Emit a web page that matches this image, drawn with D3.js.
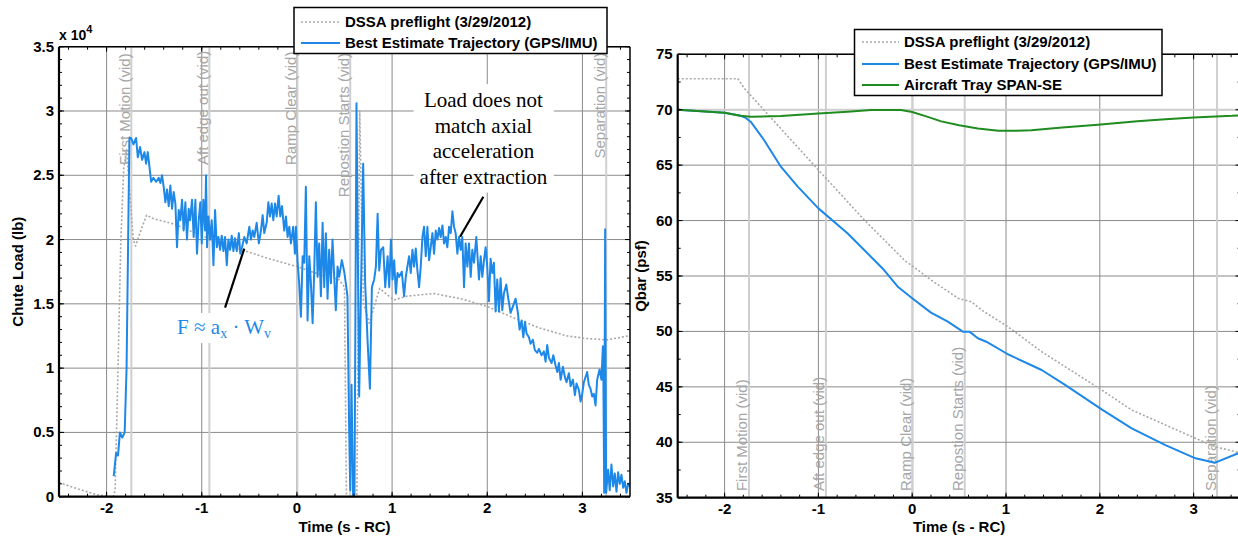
<!DOCTYPE html>
<html><head><meta charset="utf-8">
<script src="https://cdn.jsdelivr.net/npm/d3@7"></script>
<style>
body{margin:0;background:#fff}
svg{display:block;font-family:"Liberation Sans",Arial,sans-serif}
</style>
</head><body>
<svg id="c" width="1238" height="539"></svg>
<script>
// ---------------- DATA ----------------
// Left panel: chute load (units of 10^4 lb) vs time (s - RC)
const loadTime = [-1.925,-1.90,-1.88,-1.86,-1.835,-1.81,-1.79,-1.775,-1.76,-1.742,-1.718,-1.69,-1.672,-1.648,-1.627,-1.602,-1.585,-1.567,-1.55,-1.532,-1.508,-1.48,-1.452,-1.435,-1.417,-1.40,-1.382,-1.365,-1.347,-1.33,-1.312,-1.295,-1.277,-1.26,-1.242,-1.225,-1.207,-1.19,-1.172,-1.155,-1.137,-1.123,-1.102,-1.085,-1.067,-1.05,-1.032,-1.015,-1.0,-0.983,-0.965,-0.955,-0.944,-0.93,-0.912,-0.895,-0.877,-0.86,-0.842,-0.825,-0.807,-0.79,-0.772,-0.755,-0.737,-0.72,-0.702,-0.685,-0.667,-0.65,-0.632,-0.61,-0.595,-0.577,-0.553,-0.528,-0.50,-0.483,-0.465,-0.448,-0.423,-0.40,-0.378,-0.36,-0.343,-0.318,-0.30,-0.283,-0.265,-0.248,-0.23,-0.213,-0.192,-0.175,-0.157,-0.133,-0.115,-0.098,-0.08,-0.063,-0.039,-0.021,-0.01,0.007,0.024,0.042,0.06,0.077,0.094,0.112,0.13,0.147,0.165,0.182,0.199,0.217,0.234,0.252,0.27,0.287,0.304,0.322,0.339,0.357,0.374,0.392,0.409,0.427,0.444,0.472,0.497,0.514,0.531,0.549,0.56,0.574,0.59,0.605,0.626,0.654,0.696,0.717,0.742,0.767,0.788,0.812,0.83,0.848,0.865,0.883,0.907,0.928,0.953,0.97,0.988,1.005,1.022,1.04,1.057,1.074,1.102,1.126,1.144,1.161,1.179,1.196,1.214,1.231,1.249,1.266,1.284,1.301,1.319,1.336,1.354,1.371,1.389,1.406,1.424,1.441,1.459,1.476,1.494,1.511,1.529,1.546,1.564,1.581,1.599,1.616,1.634,1.651,1.668,1.686,1.703,1.721,1.738,1.756,1.773,1.791,1.808,1.826,1.843,1.861,1.885,1.913,1.931,1.948,1.966,1.983,2.0,2.018,2.035,2.053,2.07,2.088,2.105,2.123,2.14,2.158,2.175,2.2,2.221,2.245,2.27,2.298,2.322,2.34,2.361,2.379,2.396,2.413,2.438,2.455,2.48,2.5,2.526,2.543,2.571,2.595,2.613,2.63,2.648,2.676,2.694,2.718,2.736,2.753,2.771,2.795,2.816,2.833,2.858,2.876,2.9,2.921,2.938,2.963,2.981,2.998,3.015,3.05,3.067,3.085,3.103,3.12,3.138,3.155,3.18,3.2,3.215,3.22,3.229,3.239,3.249,3.27,3.287,3.305,3.323,3.34,3.358,3.375,3.393,3.41,3.428,3.445,3.463,3.48,3.5];
const loadBET = [0.16,0.34,0.32,0.50,0.46,0.50,1.0,1.9,2.79,2.79,2.74,2.79,2.64,2.72,2.62,2.68,2.59,2.68,2.57,2.45,2.48,2.45,2.48,2.44,2.50,2.41,2.29,2.39,2.26,2.42,2.24,2.37,2.28,1.94,2.23,2.15,2.31,2.07,2.29,2.00,2.24,2.15,2.31,2.02,2.31,1.89,2.15,2.29,1.97,2.31,2.07,2.50,1.94,2.18,2.00,2.15,1.80,2.23,1.94,2.02,1.92,2.03,1.91,2.02,1.80,2.00,1.92,2.03,1.91,2.01,1.91,2.05,1.89,1.94,2.02,1.97,2.10,2.00,2.07,2.02,2.13,1.97,2.07,2.19,2.05,2.13,2.29,2.18,2.28,2.15,2.28,2.18,2.34,2.18,2.26,2.07,2.18,2.02,2.10,1.97,2.10,1.89,2.10,1.82,1.66,1.40,1.87,1.82,2.41,1.37,1.87,1.66,1.35,1.76,2.29,1.71,1.97,1.56,2.13,1.63,2.05,1.54,1.92,1.66,2.00,1.71,1.45,1.79,1.71,1.84,1.75,1.66,1.56,0.52,0.05,0.87,0.0,0.02,3.06,0.78,2.59,1.66,1.22,0.84,1.63,1.69,1.79,2.20,1.76,1.92,1.94,1.63,1.87,1.63,2.00,1.69,1.84,1.58,1.74,1.71,1.75,1.56,1.71,1.79,1.87,1.74,1.92,1.79,1.93,1.76,1.63,1.79,2.02,2.10,1.87,2.10,1.84,1.94,2.05,1.89,2.07,2.00,2.09,2.02,2.11,1.97,2.02,1.94,2.10,2.05,2.22,2.10,2.05,1.89,2.02,1.92,2.02,1.63,1.97,1.79,1.97,1.71,1.92,1.82,2.02,1.69,1.87,1.71,1.84,1.94,1.79,1.52,1.85,1.74,1.82,1.44,1.69,1.44,1.70,1.45,1.58,1.65,1.54,1.43,1.48,1.54,1.43,1.30,1.37,1.24,1.36,1.27,1.24,1.19,1.22,1.14,1.12,1.15,1.10,1.13,1.05,1.18,1.08,1.04,1.10,1.02,0.97,1.04,0.91,1.01,0.93,0.89,0.96,0.86,0.91,0.79,0.88,0.83,0.74,0.80,0.89,0.97,0.87,0.84,0.78,0.80,0.71,0.91,0.99,0.91,1.17,0.96,0.03,2.08,0.03,0.21,0.05,0.25,0.08,0.18,0.04,0.19,0.10,0.17,0.07,0.12,0.03,0.10,0.08];
const loadDSSATime = [-2.5,-2.3,-2.1,-2.0,-1.93,-1.91,-1.88,-1.85,-1.82,-1.79,-1.76,-1.72,-1.695,-1.65,-1.58,-1.5,-1.39,-1.29,-1.1,-0.9,-0.7,-0.536,-0.29,0.0,0.27,0.44,0.5,0.51,0.52,0.63,0.66,0.68,0.70,0.76,0.80,0.87,0.95,1.02,1.16,1.44,1.72,2.0,2.28,2.56,2.84,3.05,3.26,3.48,3.5];
const loadDSSA = [0.11,0.06,0.015,0.005,0.0,0.05,1.0,2.0,2.55,2.7,2.4,2.0,1.95,2.05,2.19,2.16,2.14,2.12,2.06,2.0,1.95,1.91,1.85,1.79,1.72,1.69,1.63,0.8,0.0,0.0,3.0,2.2,1.5,1.35,1.45,1.62,1.57,1.53,1.56,1.58,1.54,1.48,1.39,1.31,1.25,1.23,1.22,1.25,1.25];

// Right panel: Qbar (psf) vs time (s - RC)
const qbarDSSATime = [-2.5,-1.86,-1.79,-1.58,-1.0,-0.51,-0.08,0.06,0.2,0.49,0.63,0.74,1.02,1.38,2.02,2.34,2.70,3.02,3.23,3.49,3.5];
const qbarDSSA = [72.8,72.8,71.93,69.97,64.56,60.05,56.4,55.54,54.64,52.99,52.68,51.93,50.43,48.17,44.72,42.91,41.56,40.36,39.6,39.06,39.05];
const qbarBETTime = [-2.5,-2.29,-2.0,-1.83,-1.78,-1.72,-1.58,-1.40,-1.22,-1.0,-0.69,-0.40,-0.30,-0.15,0.0,0.2,0.38,0.54,0.61,0.70,0.79,1.02,1.38,1.63,2.02,2.34,2.70,3.02,3.23,3.49,3.5];
const qbarBET = [70.0,69.88,69.73,69.46,69.3,68.9,67.27,64.86,63.06,61.1,58.85,56.4,55.54,54.0,52.99,51.7,50.88,49.98,49.98,49.38,49.07,47.94,46.52,45.17,42.97,41.26,39.75,38.55,38.16,39.06,39.1];
const qbarSPANTime = [-2.5,-2.29,-2.0,-1.83,-1.72,-1.4,-1.0,-0.69,-0.44,-0.12,0.0,0.15,0.31,0.5,0.7,0.92,1.1,1.27,1.6,1.98,2.4,2.7,3.0,3.41,3.5];
const qbarSPAN = [70.0,69.88,69.73,69.46,69.37,69.43,69.67,69.82,69.97,69.97,69.8,69.4,68.95,68.6,68.3,68.1,68.1,68.15,68.4,68.65,68.95,69.15,69.3,69.45,69.5];

// Events (video)
const eventNames = ["First Motion (vid)","Aft edge out (vid)","Ramp Clear (vid)","Repostion Starts (vid)","Separation (vid)"];
const eventTimes = [-1.74,-0.92,0.005,0.56,3.25];
const eventLabelLoad = [2.58,2.58,2.58,2.33,2.63];   // left-panel label start (x10^4 lb)
const eventLabelQbar = [35.6,35.6,35.6,35.6,35.6];   // right-panel label start (psf)

// Ticks
const timeTicks = [-2,-1,0,1,2,3];
const loadTicks = [0,0.5,1,1.5,2,2.5,3,3.5];
const qbarTicks = [35,40,45,50,55,60,65,70,75];

const legendLeft = ["DSSA preflight (3/29/2012)","Best Estimate Trajectory (GPS/IMU)"];
const legendRight = ["DSSA preflight (3/29/2012)","Best Estimate Trajectory (GPS/IMU)","Aircraft Tray SPAN-SE"];

// ---------------- STYLE ----------------
const BLUE = "#1e88e8", GREEN = "#1f8c1f", GRAY = "#a8a8a8";
const GRID = "#8a8a8a", EVLINE = "#cfcfcf", EVTEXT = "#a6a6a6";
const SERIF = "'Liberation Serif','Times New Roman',serif";

const svg = d3.select("#c");

function panel(o){
  const x = d3.scaleLinear().domain([-2.5,3.5]).range([o.L,o.R]);
  const y = d3.scaleLinear().domain(o.yDomain).range([o.B,o.T]);
  const g = svg.append("g");
  const cid = "clip"+o.id;
  svg.append("defs").append("clipPath").attr("id",cid).append("rect")
     .attr("x",o.L).attr("y",o.T).attr("width",o.R-o.L).attr("height",o.B-o.T);
  // grid
  g.selectAll(".gx").data(timeTicks).join("line")
    .attr("x1",d=>x(d)).attr("x2",d=>x(d)).attr("y1",o.T).attr("y2",o.B)
    .attr("stroke",GRID).attr("stroke-width",1);
  g.selectAll(".gy").data(o.yTicks).join("line")
    .attr("x1",o.L).attr("x2",o.R).attr("y1",d=>y(d)).attr("y2",d=>y(d))
    .attr("stroke",GRID).attr("stroke-width",1);
  const c = g.append("g").attr("clip-path",`url(#${cid})`);
  if(o.hline!==undefined){
    c.append("line").attr("x1",o.L).attr("x2",o.R).attr("y1",y(o.hline)).attr("y2",y(o.hline))
      .attr("stroke",EVLINE).attr("stroke-width",2);
  }
  // event lines
  c.selectAll(".ev").data(eventTimes).join("line")
    .attr("x1",d=>x(d)).attr("x2",d=>x(d)).attr("y1",o.T).attr("y2",o.B)
    .attr("stroke",EVLINE).attr("stroke-width",2);
  c.selectAll(".evt").data(eventNames).join("text")
    .attr("transform",(d,i)=>`translate(${x(eventTimes[i])-1.5},${y(o.evY[i])}) rotate(-90)`)
    .attr("fill",EVTEXT).attr("font-size",15).text(d=>d);
  // series
  o.series.forEach(s=>{
    const line = d3.line().x(d=>x(d[0])).y(d=>y(d[1]));
    const pts = s.t.map((t,i)=>[t,s.v[i]]);
    c.append("path").attr("d",line(pts)).attr("fill","none")
      .attr("stroke",s.color).attr("stroke-width",s.w)
      .attr("stroke-dasharray",s.dash||null).attr("stroke-linejoin","round");
  });
  // axes box
  const ax = svg.append("g");
  ax.append("line").attr("x1",o.L).attr("x2",o.R).attr("y1",o.T).attr("y2",o.T).attr("stroke","#000").attr("stroke-width",1.5);
  ax.append("line").attr("x1",o.R).attr("x2",o.R).attr("y1",o.T).attr("y2",o.B).attr("stroke","#000").attr("stroke-width",1.5);
  ax.append("line").attr("x1",o.L).attr("x2",o.R).attr("y1",o.B).attr("y2",o.B).attr("stroke","#000").attr("stroke-width",2.2);
  ax.append("line").attr("x1",o.L).attr("x2",o.L).attr("y1",o.T).attr("y2",o.B).attr("stroke","#000").attr("stroke-width",2.2);
  // ticks
  const xMinor = d3.range(-2.4,3.5,0.2).map(v=>+v.toFixed(2));
  const yMinor = d3.range(o.yDomain[0],o.yDomain[1]+1e-9,o.yMinor).map(v=>+v.toFixed(3));
  const tk = (vals,len,isX)=>{
    vals.forEach(v=>{
      if(isX){
        const px=x(v);
        ax.append("line").attr("x1",px).attr("x2",px).attr("y1",o.B).attr("y2",o.B-len).attr("stroke","#000").attr("stroke-width",1);
        ax.append("line").attr("x1",px).attr("x2",px).attr("y1",o.T).attr("y2",o.T+len).attr("stroke","#000").attr("stroke-width",1);
      } else {
        const py=y(v);
        ax.append("line").attr("x1",o.L).attr("x2",o.L+len).attr("y1",py).attr("y2",py).attr("stroke","#000").attr("stroke-width",1);
        ax.append("line").attr("x1",o.R).attr("x2",o.R-len).attr("y1",py).attr("y2",py).attr("stroke","#000").attr("stroke-width",1);
      }
    });
  };
  tk(xMinor,3,true); tk(timeTicks,5,true);
  tk(yMinor,3,false); tk(o.yTicks,5,false);
  // labels
  ax.selectAll(".xl").data(timeTicks).join("text")
    .attr("x",d=>x(d)).attr("y",o.B+16).attr("text-anchor","middle")
    .attr("font-size",15).style("font-weight","bold").text(d=>d);
  ax.selectAll(".yl").data(o.yTicks).join("text")
    .attr("x",o.L-5).attr("y",d=>y(d)+5).attr("text-anchor","end")
    .attr("font-size",15).style("font-weight","bold").text(d=>d);
  ax.append("text").attr("x",(o.L+o.R)/2).attr("y",532).attr("text-anchor","middle")
    .attr("font-size",15).style("font-weight","bold").text("Time (s - RC)");
  ax.append("text").attr("transform",`translate(${o.ylabX},${(o.T+o.B)/2}) rotate(-90)`)
    .attr("text-anchor","middle").attr("font-size",15).style("font-weight","bold").text(o.ylab);
  return {x,y,g};
}

// ---------- Left panel ----------
const P1 = panel({id:1,L:59,R:630,T:46.7,B:496.7,yDomain:[0,3.5],yTicks:loadTicks,yMinor:0.1,
  evY:eventLabelLoad, ylab:"Chute Load (lb)", ylabX:23,
  series:[
    {t:loadDSSATime,v:loadDSSA,color:GRAY,w:1.6,dash:"2,2"},
    {t:loadTime,v:loadBET,color:BLUE,w:2}
  ]});
// x 10^4
const ex = svg.append("text").attr("x",59).attr("y",40).attr("font-size",14).style("font-weight","bold");
ex.append("tspan").text("x 10");
ex.append("tspan").attr("dy",-7).attr("font-size",11).text("4");

// annotations (in data units)
function annoBox(t, pad){
  const b = t.node().getBBox();
  t.node().parentNode.insertBefore(
    svg.append("rect").attr("x",b.x-pad[0]).attr("y",b.y-pad[1]).attr("width",b.width+2*pad[0]).attr("height",b.height+2*pad[1]).attr("fill","#fff").node(),
    t.node());
}
const annG = svg.append("g");
const loadNote = annG.append("text").attr("x",P1.x(1.96)).attr("y",P1.y(3.03))
  .attr("text-anchor","middle").style("font-family",SERIF).attr("font-size",21);
["Load does not","match axial","acceleration","after extraction"].forEach((s,i)=>{
  loadNote.append("tspan").attr("x",P1.x(1.96)).attr("dy",i?25.5:0).text(s);
});
annoBox(loadNote,[6,4]);
annG.append("line").attr("x1",P1.x(1.959)).attr("y1",P1.y(2.333)).attr("x2",P1.x(1.714)).attr("y2",P1.y(2.022))
  .attr("stroke","#000").attr("stroke-width",2.2);
const fNote = annG.append("text").attr("x",P1.x(-1.259)).attr("y",P1.y(1.265))
  .style("font-family",SERIF).attr("font-size",21).attr("fill",BLUE);
fNote.append("tspan").text("F \u2248 a");
fNote.append("tspan").attr("dy",4).attr("font-size",14).text("x");
fNote.append("tspan").attr("dy",-4).text(" \u00b7 W");
fNote.append("tspan").attr("dy",4).attr("font-size",14).text("v");
annoBox(fNote,[3,2]);
annG.append("line").attr("x1",P1.x(-0.755)).attr("y1",P1.y(1.47)).attr("x2",P1.x(-0.553)).attr("y2",P1.y(1.93))
  .attr("stroke","#000").attr("stroke-width",2.2);

// ---------- Right panel ----------
const P2 = panel({id:2,L:677.7,R:1240.5,T:54.3,B:497.7,yDomain:[35,75],yTicks:qbarTicks,yMinor:2.5,
  evY:eventLabelQbar, ylab:"Qbar (psf)", ylabX:646, hline:70,
  series:[
    {t:qbarDSSATime,v:qbarDSSA,color:GRAY,w:1.6,dash:"2,2"},
    {t:qbarBETTime,v:qbarBET,color:BLUE,w:2},
    {t:qbarSPANTime,v:qbarSPAN,color:GREEN,w:2}
  ]});

// ---------- Legends ----------
function legend(x0,y0,w,h,names,styles,rowY,sx0,sx1,tx){
  const lg = svg.append("g");
  lg.append("rect").attr("x",x0).attr("y",y0).attr("width",w).attr("height",h)
    .attr("fill","#fff").attr("stroke","#000").attr("stroke-width",1.5);
  names.forEach((n,i)=>{
    lg.append("line").attr("x1",sx0).attr("x2",sx1).attr("y1",rowY[i]).attr("y2",rowY[i])
      .attr("stroke",styles[i].color).attr("stroke-width",styles[i].w).attr("stroke-dasharray",styles[i].dash||null);
    lg.append("text").attr("x",tx).attr("y",rowY[i]+5).attr("font-size",15).style("font-weight","bold").text(n);
  });
}
legend(294,7.5,313,46,legendLeft,
  [{color:GRAY,w:1.6,dash:"2,2"},{color:BLUE,w:2}],[22,43],301,340,345);
legend(854.5,29.5,307.5,66,legendRight,
  [{color:GRAY,w:1.6,dash:"2,2"},{color:BLUE,w:2},{color:GREEN,w:2}],[42,64,85],862,899,904);
</script>
</body></html>
